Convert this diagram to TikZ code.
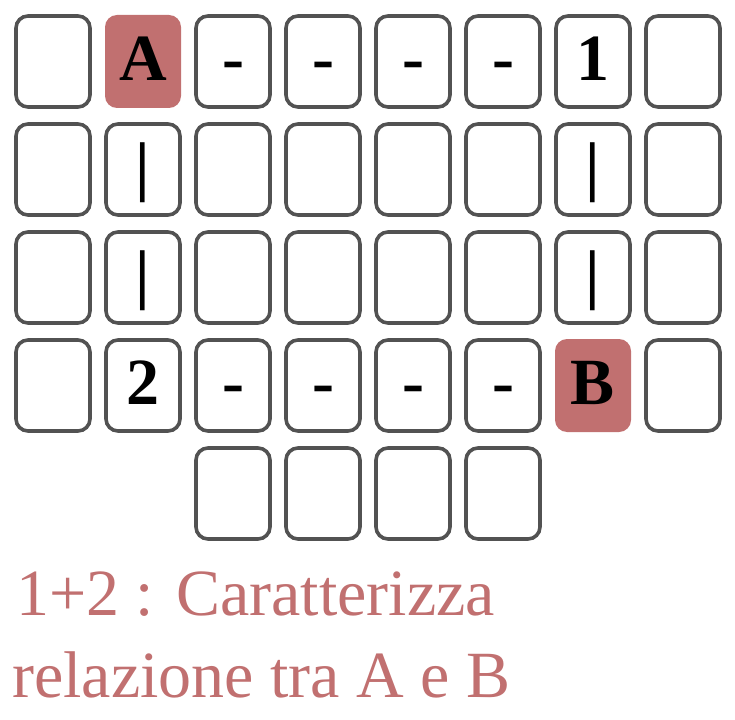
\documentclass[tikz,border=0pt]{standalone}
\usepackage{fontspec}
\setmainfont{Liberation Serif}
\definecolor{rosy}{RGB}{193,112,112}
\definecolor{boxgray}{RGB}{82,82,82}
\begin{document}
\begin{tikzpicture}[x=1pt, y=-1pt,
        cell/.style={rectangle, rounded corners=12pt, draw=boxgray, line width=3.6pt, minimum width=74pt, minimum height=91pt},
        hilite/.style={rectangle, rounded corners=12pt, fill=rosy, minimum width=76pt, minimum height=93pt},
        sym/.style={anchor=base, inner sep=0pt, font=\fontsize{66}{70}\selectfont\bfseries, yshift=-19pt},
        caption/.style={anchor=base west, inner sep=0pt, text=rosy, font=\fontsize{66}{70}\selectfont}]
    \path[use as bounding box] (0,0) rectangle (735,719);
    % grid of cells, A and B are left out here
    \foreach \r in {0,...,3}{
        \foreach \k in {0,...,7}{
            \pgfmathtruncatemacro\idx{10*\r+\k}
            \ifnum\idx=1 \else\ifnum\idx=36 \else
                \node[cell] (c\r\k) at (53+90*\k, 61.5+108*\r) {};
            \fi\fi
        }
    }
    \foreach \k in {2,...,5}
        \node[cell] (c4\k) at (53+90*\k, 61.5+108*4) {};
    \node[hilite] (c01) at (143, 61.5) {};
    \node[hilite] (c36) at (593, 385.5) {};
    % letters and marks
    \node[sym] (sA) at (c01) {A};
    \node[sym] (sB) at (c36) {B};
    \node[sym] (s1) at (c06) {1};
    \node[sym] (s2) at (c31) {2};
    \foreach \k in {2,...,5}{
        \node[sym] (h0\k) at (c0\k) {-};
        \node[sym] (h3\k) at (c3\k) {-};
    }
    \foreach \r in {1,2}{
        \node[sym] (v\r1) at (c\r1) {|};
        \node[sym] (v\r6) at (c\r6) {|};
    }
    \node[caption] (cap1) at (16, 615) {1+2 : Caratterizza};
    \node[caption] (cap2) at (12, 697) {relazione tra A e B};
\end{tikzpicture}
\end{document}
